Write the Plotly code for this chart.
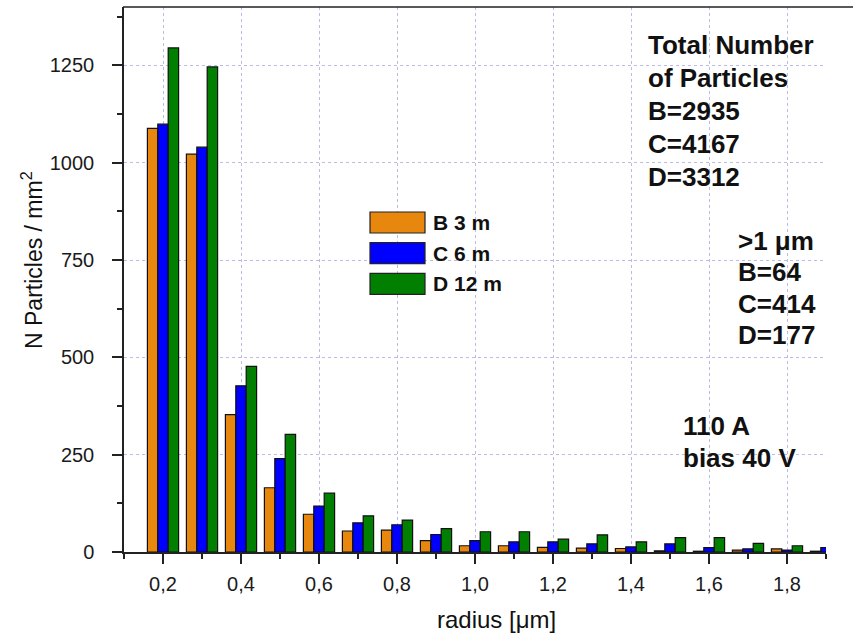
import plotly.graph_objects as go

# Particle size distribution, three sampling distances
radius = [0.2, 0.3, 0.4, 0.5, 0.6, 0.7, 0.8, 0.9, 1.0,
          1.1, 1.2, 1.3, 1.4, 1.5, 1.6, 1.7, 1.8, 1.9]
b_3m = [1088, 1022, 353, 165, 97, 54, 56, 29, 16,
        16, 12, 10, 9, 3, 2, 5, 8, 2]
c_6m = [1099, 1040, 427, 240, 118, 75, 70, 45, 29,
        26, 26, 21, 13, 21, 11, 8, 5, 11]
d_12m = [1295, 1246, 477, 302, 151, 93, 82, 60, 52,
         52, 33, 44, 26, 37, 37, 22, 16, None]

series_names = ["B 3 m", "C 6 m", "D 12 m"]
series_colors = ["#E8870E", "#0000FF", "#007F00"]

x_tickvals = [0.2, 0.4, 0.6, 0.8, 1.0, 1.2, 1.4, 1.6, 1.8]
x_ticktext = ["0,2", "0,4", "0,6", "0,8", "1,0", "1,2", "1,4", "1,6", "1,8"]
y_tickvals = [0, 250, 500, 750, 1000, 1250]

totals_block = ["Total Number", "of Particles", "B=2935", "C=4167", "D=3312"]
large_block = [">1 μm", "B=64", "C=414", "D=177"]
conditions_block = ["110 A", "bias 40 V"]

# Figure geometry (pixels)
W, H = 853, 638
L, R, T, B = 124, 826, 7, 552


def px_x(px):
    return (px - L) / (R - L)


def px_y(py):
    return (B - py) / (B - T)


FONT = "Liberation Sans, Arial, sans-serif"

fig = go.Figure()
for name, vals, col in zip(series_names, [b_3m, c_6m, d_12m], series_colors):
    fig.add_trace(go.Bar(
        x=radius, y=vals, name=name,
        marker=dict(color=col, line=dict(color="#111111", width=1.2)),
        showlegend=False,
    ))

fig.update_layout(
    width=W, height=H,
    margin=dict(l=L, r=W - R, t=T, b=H - B),
    paper_bgcolor="white", plot_bgcolor="white",
    barmode="group", bargap=0.2, bargroupgap=0.0,
    font=dict(family=FONT, color="#1a1a1a"),
)

fig.update_xaxes(
    range=[0.1, 1.9],
    tickvals=x_tickvals, ticktext=x_ticktext,
    ticks="outside", ticklen=10, tickwidth=1.5, tickcolor="#222",
    tickfont=dict(size=20, family=FONT, color="#1a1a1a"),
    ticklabelstandoff=3,
    minor=dict(tickvals=[0.1, 0.3, 0.5, 0.7, 0.9, 1.1, 1.3, 1.5, 1.7, 1.9],
               ticks="outside", ticklen=5, tickwidth=1.5, tickcolor="#222",
               showgrid=False),
    showline=True, linecolor="#222", linewidth=1.5,
    showgrid=True, gridcolor="#BBBBE8", gridwidth=1, griddash="dot",
    zeroline=False,
)
fig.update_yaxes(
    range=[0, 1400],
    tickvals=y_tickvals,
    ticks="outside", ticklen=10, tickwidth=1.5, tickcolor="#222",
    tickfont=dict(size=20, family=FONT, color="#1a1a1a"),
    ticklabelstandoff=14,
    minor=dict(dtick=125, tick0=125, ticks="outside", ticklen=5,
               tickwidth=1.5, tickcolor="#222", showgrid=False),
    showline=True, linecolor="#222", linewidth=1.5,
    showgrid=True, gridcolor="#BBBBE8", gridwidth=1, griddash="dot",
    zeroline=False,
)

shapes = []
annotations = []

# top frame line
shapes.append(dict(type="line", xref="paper", yref="paper",
                   x0=px_x(123), x1=px_x(853), y0=1, y1=1,
                   line=dict(color="#222", width=1.5)))
# short extension of the y axis below the origin
shapes.append(dict(type="line", xref="paper", yref="paper",
                   x0=0, x1=0, y0=px_y(552), y1=px_y(558),
                   line=dict(color="#222", width=1.5)))

# legend drawn as wide swatches
for i, (name, col) in enumerate(zip(series_names, series_colors)):
    y0 = 212 + 30.7 * i
    shapes.append(dict(type="rect", xref="paper", yref="paper",
                       x0=px_x(370), x1=px_x(425), y0=px_y(y0 + 21), y1=px_y(y0),
                       fillcolor=col, line=dict(color="#222", width=1.2)))
    annotations.append(dict(xref="paper", yref="paper", x=px_x(431), y=px_y(y0 + 10.5),
                            text="<b>%s</b>" % name, showarrow=False,
                            xanchor="left", yanchor="middle",
                            font=dict(size=21, family=FONT, color="#111")))


def add_block(lines, left, first, step):
    for k, line in enumerate(lines):
        annotations.append(dict(xref="paper", yref="paper", x=px_x(left),
                                y=px_y(first + step * k),
                                text="<b>%s</b>" % line, showarrow=False,
                                xanchor="left", yanchor="middle",
                                font=dict(size=26, family=FONT, color="#111")))


add_block(totals_block, 646, 45, 33)
add_block(large_block, 736, 241, 31.3)
add_block(conditions_block, 681, 426, 32)

# axis titles
annotations.append(dict(xref="paper", yref="paper", x=px_x(496), y=px_y(619),
                        text="radius [μm]", showarrow=False,
                        xanchor="center", yanchor="middle",
                        font=dict(size=24, family=FONT, color="#111")))
annotations.append(dict(xref="paper", yref="paper", x=px_x(32), y=px_y(260),
                        text="N Particles / mm<sup>2</sup>", showarrow=False,
                        textangle=-90, xanchor="center", yanchor="middle",
                        font=dict(size=23, family=FONT, color="#111")))

fig.update_layout(shapes=shapes, annotations=annotations)

fig.write_html("out.html")
